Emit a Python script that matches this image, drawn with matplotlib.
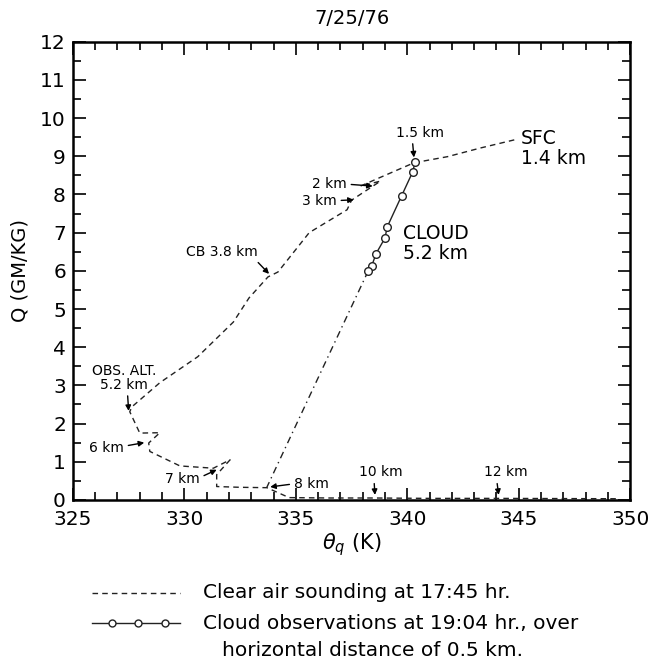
import matplotlib
import matplotlib.pyplot as plt
from matplotlib.ticker import MultipleLocator

matplotlib.use('Agg')

# clear air sounding (theta_q in K, Q in g/kg), surface down to 12 km
theta_clear = [344.8, 343.3, 341.8, 340.3, 338.8, 337.9, 338.8, 338.2, 337.5,
               337.3, 335.6, 334.2, 333.75, 332.9, 332.2, 330.6, 328.9, 327.65,
               327.55, 328.0, 328.9, 328.4, 328.45, 329.8, 331.3, 332.05,
               331.45, 331.45, 332.5, 333.7, 334.7, 336.5, 338.5, 341.0,
               344.0, 349.5]
q_clear = [9.43, 9.22, 8.99, 8.83, 8.45, 8.22, 8.35, 8.12, 7.85,
           7.6, 7.0, 5.97, 5.84, 5.29, 4.66, 3.75, 3.07, 2.44,
           2.31, 1.75, 1.76, 1.49, 1.27, 0.89, 0.83, 1.05,
           0.66, 0.35, 0.33, 0.32, 0.06, 0.05, 0.05, 0.04,
           0.04, 0.03]

# cloud observations
theta_cloud = [340.35, 340.25, 339.75, 339.1, 339.0, 338.6, 338.4, 338.25]
q_cloud = [8.85, 8.6, 7.97, 7.15, 6.86, 6.45, 6.12, 6.0]

# extrapolation of cloud line down to 8 km
theta_ext = [338.25, 333.7]
q_ext = [6.0, 0.33]

# altitude annotations
labels = ["1.5 km", "2 km", "3 km", "CB 3.8 km", "OBS. ALT.\n5.2 km",
          "6 km", "7 km", "8 km", "10 km", "12 km"]
label_pts = [(340.3, 8.97), (338.45, 8.22), (337.6, 7.86), (333.8, 5.92),
             (327.5, 2.33), (328.2, 1.5), (331.45, 0.79), (333.85, 0.34),
             (338.55, 0.13), (344.1, 0.13)]
label_txt = [(340.55, 9.62), (337.3, 8.27), (336.85, 7.84), (331.7, 6.5),
             (327.3, 3.2), (327.3, 1.37), (330.7, 0.55), (334.9, 0.42),
             (338.8, 0.72), (344.4, 0.72)]
label_ha = ['center', 'right', 'right', 'center', 'center',
            'right', 'right', 'left', 'center', 'center']
label_rel = [(0.35, 0), (1, 0.5), (1, 0.5), (0.95, 0), (0.55, 0),
             (1, 0.6), (1, 0.6), (0, 0.5), (0.35, 0), (0.3, 0)]

fig = plt.figure(figsize=(6.51, 6.63), dpi=100)
ax = fig.add_axes([0.112, 0.246, 0.856, 0.691])

ax.plot(theta_clear, q_clear, color='#222222', lw=1.0, ls=(0, (4, 3)))
ax.plot(theta_ext, q_ext, color='#222222', lw=1.0, ls=(0, (5, 3, 1, 3)))
ax.plot(theta_cloud, q_cloud, color='#222222', lw=1.0, marker='o', ms=5.5,
        mfc='white', mec='#222222', mew=1.0)

for txt, pt, tp, ha, rel in zip(labels, label_pts, label_txt, label_ha,
                                label_rel):
    ax.annotate(txt, xy=pt, xytext=tp, ha=ha, va='center', fontsize=10,
                linespacing=1.0,
                arrowprops=dict(arrowstyle='-|>', color='black', lw=1.0,
                                mutation_scale=8, shrinkA=1, shrinkB=0,
                                relpos=rel))

ax.text(345.1, 9.2, "SFC\n1.4 km", fontsize=13.5, ha='left', va='center',
        linespacing=1.05)
ax.text(339.8, 6.72, "CLOUD\n5.2 km", fontsize=13.5, ha='left', va='center',
        linespacing=1.05)

ax.set_xlim(325, 350)
ax.set_ylim(0, 12)
ax.xaxis.set_major_locator(MultipleLocator(5))
ax.xaxis.set_minor_locator(MultipleLocator(1))
ax.yaxis.set_major_locator(MultipleLocator(1))
ax.yaxis.set_minor_locator(MultipleLocator(0.5))
ax.tick_params(which='both', direction='in', top=True, right=True,
               labelsize=14.5, width=1.2)
ax.tick_params(which='major', length=9)
ax.tick_params(which='minor', length=6)
ax.tick_params(axis='x', pad=7)
ax.tick_params(axis='y', pad=5)
for s in ax.spines.values():
    s.set_linewidth(1.8)

ax.set_title("7/25/76", fontsize=14, pad=13)
ax.set_xlabel(r"$\theta_q$ (K)", fontsize=15, labelpad=2)
ax.set_ylabel("Q (GM/KG)", fontsize=14, labelpad=8)

# legend drawn below the axes
fig.add_artist(plt.Line2D([0.141, 0.277], [0.1056, 0.1056],
                          transform=fig.transFigure, color='#222222',
                          lw=1.0, ls=(0, (4, 3))))
fig.add_artist(plt.Line2D([0.141, 0.172, 0.212, 0.253, 0.277], [0.0603] * 5,
                          transform=fig.transFigure, color='#222222',
                          lw=1.0, marker='o', ms=5, mfc='white',
                          markevery=[1, 2, 3], mec='#222222'))
fig.text(0.312, 0.1056, "Clear air sounding at 17:45 hr.", fontsize=14.5,
         va='center')
fig.text(0.312, 0.0603, "Cloud observations at 19:04 hr., over",
         fontsize=14.5, va='center')
fig.text(0.341, 0.0196, "horizontal distance of 0.5 km.", fontsize=14.5,
         va='center')

plt.savefig("out.png", dpi=100)
